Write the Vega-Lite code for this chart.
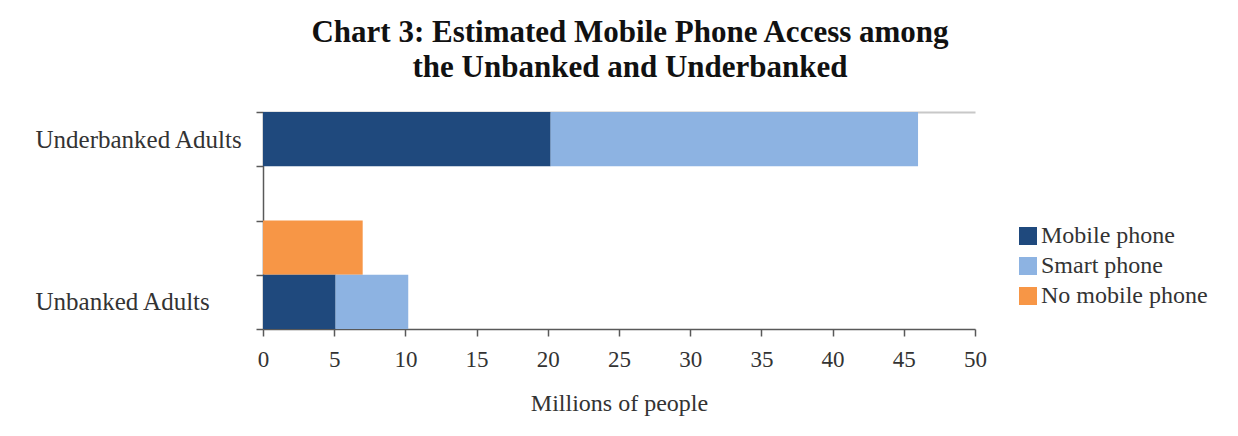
{
  "$schema": "https://vega.github.io/schema/vega-lite/v6.json",
  "width": 712,
  "height": 217,
  "autosize": {"type": "none"},
  "padding": {"left": 263, "top": 112, "right": 263, "bottom": 107},
  "background": "white",
  "title": {
    "text": ["Chart 3: Estimated Mobile Phone Access among", "the Unbanked and Underbanked"],
    "font": "Liberation Serif",
    "fontSize": 31,
    "fontWeight": "bold",
    "color": "#111111",
    "lineHeight": 35,
    "anchor": "middle",
    "dx": 11,
    "offset": 16
  },
  "data": {
    "values": [
      {"group": "Underbanked Adults", "type": "Mobile phone", "value": 20.2, "k": 1},
      {"group": "Underbanked Adults", "type": "Smart phone", "value": 25.8, "k": 2},
      {"group": "No phone", "type": "No mobile phone", "value": 7.0, "k": 3},
      {"group": "Unbanked Adults", "type": "Mobile phone", "value": 5.1, "k": 1},
      {"group": "Unbanked Adults", "type": "Smart phone", "value": 5.1, "k": 2}
    ]
  },
  "layer": [
    {
      "mark": {"type": "bar"},
      "encoding": {
        "y": {
          "field": "group",
          "type": "nominal",
          "scale": {"domain": ["Underbanked Adults", "gap", "No phone", "Unbanked Adults"], "paddingInner": 0, "paddingOuter": 0},
          "axis": {
            "title": null,
            "labelExpr": "datum.value == 'gap' || datum.value == 'No phone' ? '' : datum.value",
            "tickBand": "extent",
            "labelFont": "Liberation Serif",
            "labelFontSize": 25,
            "labelColor": "#333333",
            "labelAlign": "left",
            "labelPadding": 221,
            "labelLimit": 0,
            "domainColor": "#595959",
            "domainWidth": 1.5,
            "tickColor": "#595959",
            "tickWidth": 1.5,
            "tickSize": 7
          }
        },
        "x": {
          "field": "value",
          "type": "quantitative",
          "stack": "zero",
          "scale": {"domain": [0, 50], "nice": false},
          "axis": {
            "title": "Millions of people",
            "values": [0, 5, 10, 15, 20, 25, 30, 35, 40, 45, 50],
            "grid": false,
            "labelFlush": false,
            "labelFont": "Liberation Serif",
            "labelFontSize": 23,
            "labelColor": "#333333",
            "labelPadding": 12,
            "titleFont": "Liberation Serif",
            "titleFontSize": 24,
            "titleFontWeight": "normal",
            "titleColor": "#333333",
            "titlePadding": 20,
            "domainColor": "#595959",
            "domainWidth": 1.5,
            "tickColor": "#595959",
            "tickWidth": 1.5,
            "tickSize": 7
          }
        },
        "color": {
          "field": "type",
          "type": "nominal",
          "scale": {"domain": ["Mobile phone", "Smart phone", "No mobile phone"], "range": ["#1F497D", "#8DB3E2", "#F79646"]},
          "legend": {
            "title": null,
            "orient": "none",
            "legendX": 753,
            "legendY": 112,
            "symbolType": "square",
            "symbolSize": 324,
            "symbolStrokeWidth": 0,
            "labelFont": "Liberation Serif",
            "labelFontSize": 24,
            "labelColor": "#333333",
            "labelLimit": 0,
            "rowPadding": 6,
            "labelOffset": 1
          }
        },
        "order": {"field": "k", "type": "quantitative"}
      }
    },
    {
      "mark": {"type": "rule", "opacity": 0},
      "encoding": {
        "x": {
          "datum": 0,
          "type": "quantitative",
          "axis": {
            "orient": "top",
            "labels": false,
            "ticks": false,
            "grid": false,
            "title": null,
            "domainColor": "#c8c8c8",
            "domainWidth": 2
          }
        }
      }
    }
  ],
  "resolve": {"axis": {"x": "independent"}},
  "config": {"view": {"stroke": null}}
}
